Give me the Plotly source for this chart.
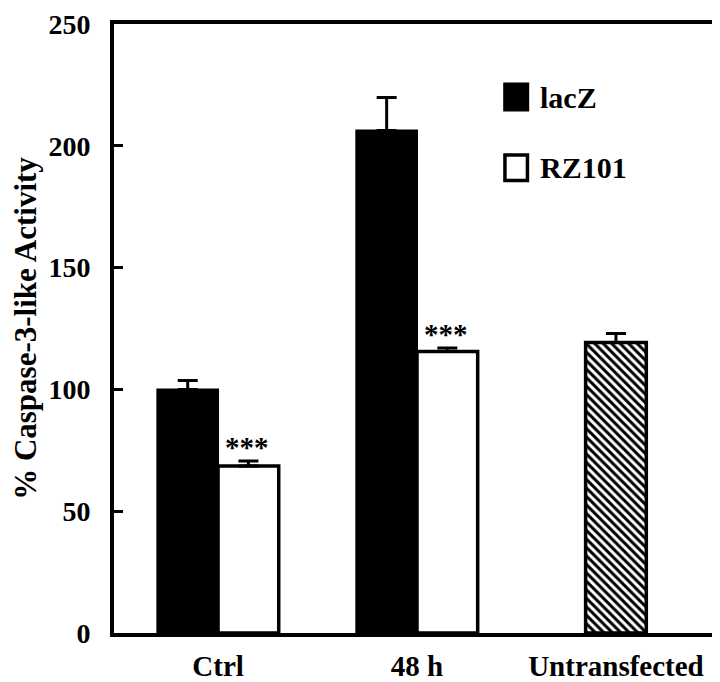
import plotly.graph_objects as go

categories = ["Ctrl", "48 h", "Untransfected"]
lacz_cats = ["Ctrl", "48 h"]
lacz_vals = [100, 206.3]
lacz_err = [3.7, 13.5]
rz_cats = ["Ctrl", "48 h"]
rz_vals = [68.6, 115.6]
rz_err = [2.0, 1.4]
untr_cats = ["Untransfected"]
untr_vals = [119.3]
untr_err = [3.6]
y_ticks = [0, 50, 100, 150, 200, 250]
sig_labels = ["***", "***"]

FONT = "Liberation Serif"
BW = 0.305

fig = go.Figure()

err_style = dict(type="data", symmetric=False, color="black", thickness=3, width=10)

fig.add_trace(go.Bar(
    x=lacz_cats, y=lacz_vals, name="lacZ", offset=-BW, width=BW,
    marker=dict(color="black", line=dict(color="black", width=2)),
    error_y=dict(array=lacz_err, arrayminus=[0] * len(lacz_err), **err_style),
    showlegend=False,
))
fig.add_trace(go.Bar(
    x=rz_cats, y=rz_vals, name="RZ101", offset=0, width=BW,
    marker=dict(color="white", line=dict(color="black", width=3.5)),
    error_y=dict(array=rz_err, arrayminus=[0] * len(rz_err), **err_style),
    showlegend=False,
))
fig.add_trace(go.Bar(
    x=untr_cats, y=untr_vals, name="Untransfected", offset=-BW / 2, width=BW,
    marker=dict(color="white", line=dict(color="black", width=3.5),
                pattern=dict(shape="\\", fgcolor="black", bgcolor="white",
                             size=6, solidity=0.5, fillmode="replace")),
    error_y=dict(array=untr_err, arrayminus=[0] * len(untr_err), **err_style),
    showlegend=False,
))

annotations = []
for cat, v, e, lab in zip(rz_cats, rz_vals, rz_err, sig_labels):
    annotations.append(dict(
        x=cat, y=v + e, xref="x", yref="y", text=f"<b>{lab}</b>", showarrow=False,
        xshift=29, yshift=14, yanchor="middle",
        font=dict(family=FONT, size=29, color="black"),
    ))

# legend (drawn manually to match the large swatches)
legend_items = [("lacZ", "black", 0.88), ("RZ101", "white", 0.764)]
shapes = []
for lab, col, yc in legend_items:
    shapes.append(dict(type="rect", xref="paper", yref="paper",
                       x0=0.643, x1=0.680, y0=yc - 0.021, y1=yc + 0.021,
                       fillcolor=col, line=dict(color="black", width=3.5)))
    annotations.append(dict(x=0.697, y=yc, xref="paper", yref="paper", text=f"<b>{lab}</b>",
                            showarrow=False, xanchor="left", yanchor="middle",
                            font=dict(family=FONT, size=30, color="black")))

fig.update_layout(
    width=720, height=682,
    margin=dict(l=106, r=6, t=16, b=57),
    paper_bgcolor="white", plot_bgcolor="white",
    barmode="overlay",
    font=dict(family=FONT, size=29, color="black"),
    annotations=annotations,
    shapes=shapes,
)
fig.update_xaxes(
    type="category", categoryorder="array", categoryarray=categories,
    range=[-0.523, 2.533], automargin=False,
    tickvals=categories, ticktext=[f"<b>{c}</b>" for c in categories],
    showline=True, linecolor="black", linewidth=4, mirror=True,
    ticks="", showgrid=False, zeroline=False,
    tickfont=dict(family=FONT, size=29, color="black"),
    ticklabelstandoff=4, ticklabeloverflow="allow",
)
fig.update_yaxes(
    range=[0, 250], tickvals=y_ticks, ticktext=[f"<b>{t}</b>" for t in y_ticks],
    automargin=False,
    showline=True, linecolor="black", linewidth=4, mirror=True,
    ticks="inside", ticklen=9, tickwidth=3, tickcolor="black",
    showgrid=False, zeroline=False,
    tickfont=dict(family=FONT, size=28, color="black"),
    ticklabelstandoff=14, ticklabeloverflow="allow",
    title=dict(text="<b>% Caspase-3-like Activity</b>", standoff=10,
               font=dict(family=FONT, size=31, color="black")),
)

fig.write_html("out.html")
